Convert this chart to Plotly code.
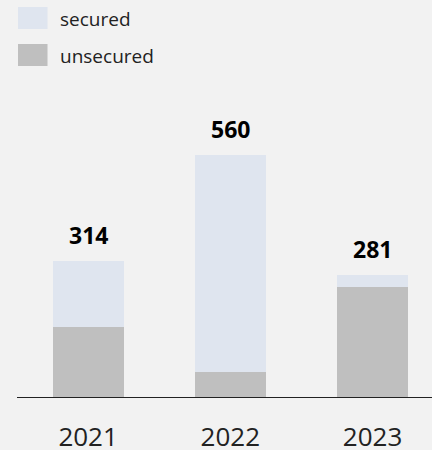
import plotly.graph_objects as go

years = ["2021", "2022", "2023"]
unsecured = [161, 57, 254]
totals = [314, 560, 281]
secured = [t - u for t, u in zip(totals, unsecured)]
legend_labels = ["secured", "unsecured"]
colors = ["#DFE5EF", "#BFBFBF"]

FONT = "Open Sans"

fig = go.Figure()
fig.add_trace(go.Bar(x=years, y=unsecured, name="unsecured", marker_color=colors[1],
                     marker_line_width=0, width=0.5, showlegend=False))
fig.add_trace(go.Bar(x=years, y=secured, name="secured", marker_color=colors[0],
                     marker_line_width=0, width=0.5, showlegend=False))

for i, t in enumerate(totals):
    fig.add_annotation(x=i, y=t, text=f"<b>{t}</b>", showarrow=False,
                       yanchor="bottom", yshift=8,
                       font=dict(family=FONT, size=23, color="#000000"))

# manual legend
for i, (lab, col) in enumerate(zip(legend_labels, colors)):
    top = 7 + i * 37
    fig.add_shape(type="rect", xref="paper", yref="paper",
                  x0=(18 - 17) / 415, x1=(47.5 - 17) / 415,
                  y0=(397 - top) / 297, y1=(397 - top - 22) / 297,
                  fillcolor=col, line_width=0, layer="above")
    fig.add_annotation(xref="paper", yref="paper", x=(58 - 17) / 415,
                       y=(397 - top - 12) / 297, text=lab, showarrow=False,
                       xanchor="left", yanchor="middle",
                       font=dict(family=FONT, size=19, color="#222222"))

fig.update_layout(
    barmode="stack",
    width=432, height=450,
    margin=dict(l=17, r=0, t=100, b=53),
    paper_bgcolor="#F2F2F2", plot_bgcolor="#F2F2F2",
    font=dict(family=FONT),
    showlegend=False,
)
fig.update_xaxes(type="category", range=[-0.5, 2.418], showline=True, linecolor="#222222",
                 linewidth=1.3, showgrid=False, ticks="outside", ticklen=17, automargin=False,
                 tickcolor="rgba(0,0,0,0)", tickfont=dict(family=FONT, size=26, color="#222222"))
fig.update_yaxes(range=[0, 686.4], visible=False, showgrid=False, zeroline=False, automargin=False)

fig.write_html("out.html")
